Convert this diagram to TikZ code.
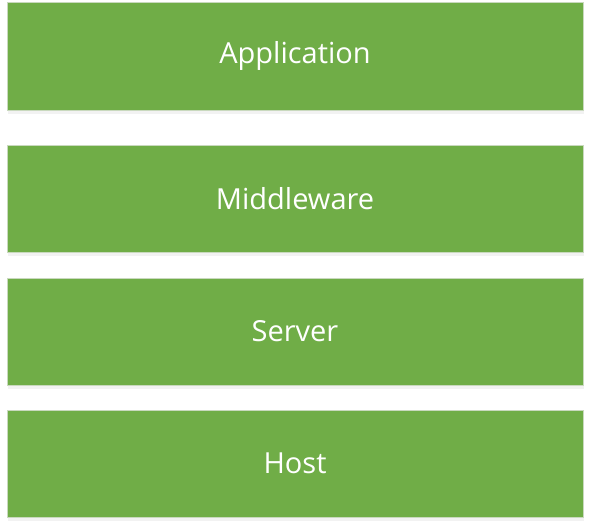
\documentclass[tikz,border=0pt]{standalone}
\usepackage{fontspec}
\setmainfont{Open Sans}
\usetikzlibrary{shadows}
\definecolor{boxgreen}{HTML}{70AD47}
\definecolor{boxedge}{HTML}{C9D9BE}
\begin{document}
\begin{tikzpicture}[x=1pt,y=-1pt,
  layerbox/.style={rectangle, fill=boxgreen, draw=boxedge, line width=0.8pt,
    minimum width=576pt, minimum height=107pt, inner sep=0pt,
    text=white, font=\fontsize{29}{35}\selectfont,
    drop shadow={shadow xshift=1pt, shadow yshift=-4pt, fill=black, opacity=0.05}}]
\useasboundingbox (0,0) rectangle (589,521);
\node[layerbox, minimum height=108pt] (app) at (295,56) {Application};
\node[layerbox] (mid) at (295,198.5) {Middleware};
\node[layerbox] (srv) at (295,331.5) {Server};
\node[layerbox] (host) at (295,463.5) {Host};
\end{tikzpicture}
\end{document}
